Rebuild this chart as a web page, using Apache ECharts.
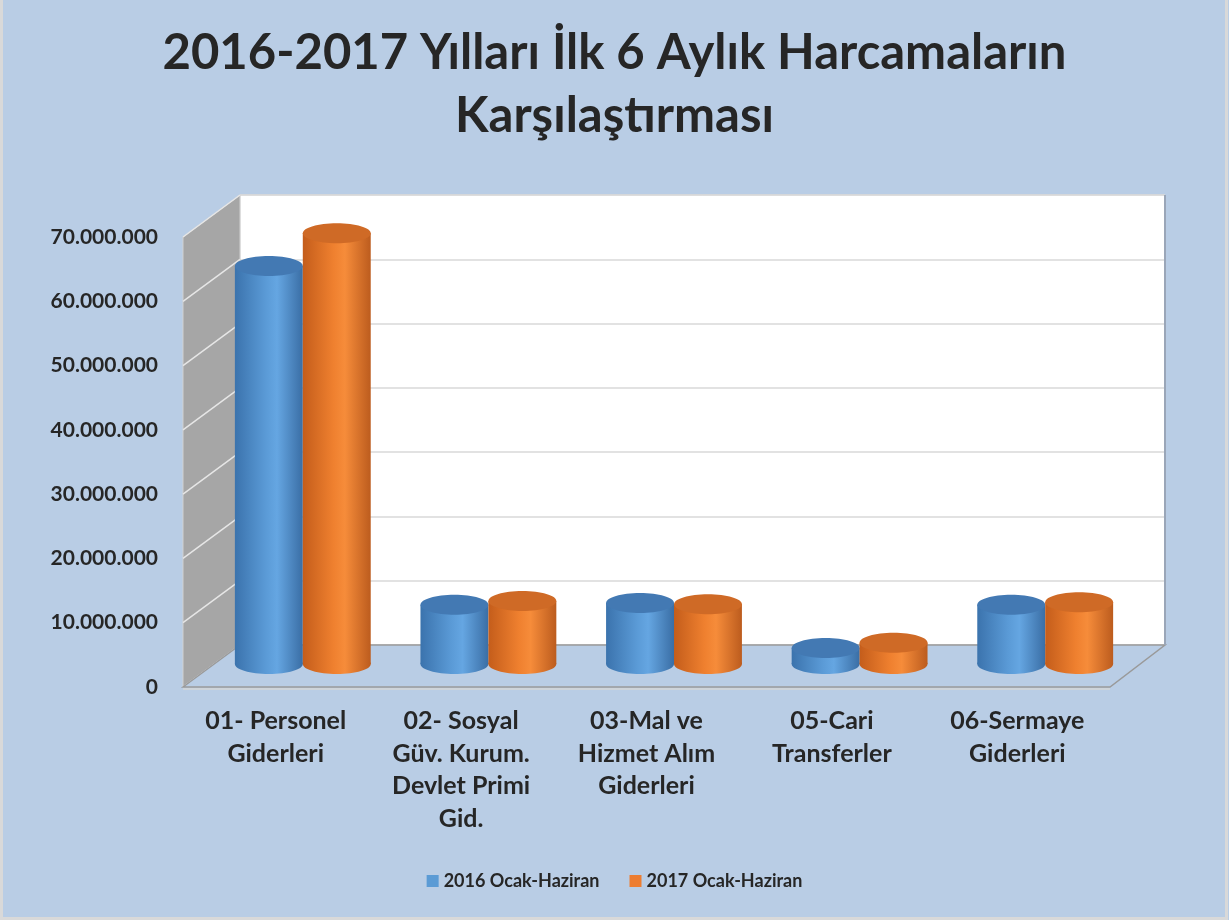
<!DOCTYPE html>
<html>
<head>
<meta charset="utf-8">
<script src="https://cdn.jsdelivr.net/npm/echarts@6/dist/echarts.min.js"></script>
<style>
  html, body { margin: 0; background: #b9cde5; }
  #chart { width: 1229px; height: 920px; }
</style>
</head>
<body>
<div id="chart"></div>
<script>
// data
const categories = [
  '01- Personel\nGiderleri',
  '02- Sosyal\nGüv. Kurum.\nDevlet Primi\nGid.',
  '03-Mal ve\nHizmet Alım\nGiderleri',
  '05-Cari\nTransferler',
  '06-Sermaye\nGiderleri'
];
const seriesNames = ['2016 Ocak-Haziran', '2017 Ocak-Haziran'];
const values2016 = [61900000, 9200000, 9500000, 2500000, 9200000];
const values2017 = [67000000, 9800000, 9300000, 3300000, 9600000];
const yTicks = [0, 10000000, 20000000, 30000000, 40000000, 50000000, 60000000, 70000000];

// pseudo 3d layout: front plane (labels), middle plane (cylinders), back wall
const front = { left: 183, top: 237, width: 927, height: 450 };
const mid = { left: 210, top: 214, width: 928, height: 450 };
const back = { left: 240, top: 195, width: 925, height: 450 };
const yMin = yTicks[0], yMax = yTicks[yTicks.length - 1], yStep = yTicks[1] - yTicks[0];

const font = 'Lato, "Open Sans", sans-serif';
const textColor = '#262626';

function fmt(v) {
  return String(v).replace(/\B(?=(\d{3})+(?!\d))/g, '.');
}

const chart = echarts.init(document.getElementById('chart'));

function cylinder(side, stops, topColor) {
  return function (params, api) {
    const band = api.size([1, 0])[0];
    const w = band * 0.366;
    const pTop = api.coord([api.value(0), api.value(1)]);
    const pBase = api.coord([api.value(0), 0]);
    const cx = pTop[0] + side * w / 2;
    const rx = w / 2, ry = 10;
    const grad = new echarts.graphic.LinearGradient(0, 0, 1, 0, stops);
    return {
      type: 'group',
      children: [
        { type: 'ellipse', shape: { cx: cx, cy: pBase[1], rx: rx, ry: ry }, style: { fill: grad } },
        { type: 'rect', shape: { x: cx - rx, y: pTop[1], width: w, height: pBase[1] - pTop[1] }, style: { fill: grad } },
        { type: 'ellipse', shape: { cx: cx, cy: pTop[1], rx: rx, ry: ry }, style: { fill: topColor } }
      ]
    };
  };
}

const blueStops = [
  { offset: 0, color: '#3b73ad' },
  { offset: 0.45, color: '#5a9ad6' },
  { offset: 0.62, color: '#65a6e2' },
  { offset: 1, color: '#3a6ea5' }
];
const orangeStops = [
  { offset: 0, color: '#c45d1b' },
  { offset: 0.45, color: '#ef802f' },
  { offset: 0.62, color: '#f68c3a' },
  { offset: 1, color: '#bc5c1e' }
];

// side wall, floor and frame as decoration
const frontBottom = front.top + front.height;
const backBottom = back.top + back.height;
const deco = [];
deco.push({
  type: 'polygon', z: 1,
  shape: { points: [[front.left, front.top], [back.left, back.top], [back.left, backBottom], [front.left, frontBottom]] },
  style: { fill: '#a6a6a6', stroke: '#d0d0d0', lineWidth: 1 }
});
yTicks.forEach(function (t) {
  const r = (t - yMin) / (yMax - yMin);
  deco.push({
    type: 'line', z: 1,
    shape: { x1: front.left, y1: frontBottom - r * front.height, x2: back.left, y2: backBottom - r * back.height },
    style: { stroke: '#e6e6e6', lineWidth: 1.5 }
  });
});
deco.push({
  type: 'polygon', z: 1,
  shape: { points: [[front.left, frontBottom], [back.left, backBottom], [back.left + back.width, backBottom], [front.left + front.width, frontBottom]] },
  style: { fill: '#b9cde5', stroke: '#9a9a9a', lineWidth: 1.5 }
});
deco.push({
  type: 'line', z: 1,
  shape: { x1: front.left, y1: frontBottom + 2, x2: front.left + front.width, y2: frontBottom + 2 },
  style: { stroke: '#d6d6d6', lineWidth: 1.5 }
});
deco.push({
  type: 'line', z: 1,
  shape: { x1: back.left + back.width, y1: back.top, x2: back.left + back.width, y2: backBottom },
  style: { stroke: '#9aa6b8', lineWidth: 2 }
});
deco.push({
  type: 'rect', z: 10,
  shape: { x: 1.5, y: -5, width: 1225, height: 923.5 },
  style: { fill: null, stroke: '#d9d9d9', lineWidth: 3 }
});

const option = {
  backgroundColor: '#b9cde5',
  title: {
    text: '2016-2017 Yılları İlk 6 Aylık Harcamaların\nKarşılaştırması',
    left: 'center',
    top: 17,
    textStyle: { fontFamily: font, fontWeight: 'bold', fontSize: 49, lineHeight: 63, color: textColor }
  },
  legend: {
    data: seriesNames,
    bottom: 25,
    left: 'center',
    icon: 'rect',
    itemWidth: 12,
    itemHeight: 12,
    itemGap: 30,
    textStyle: { fontFamily: font, fontWeight: 'bold', fontSize: 18, color: textColor }
  },
  graphic: deco,
  grid: [
    { left: back.left, top: back.top, width: back.width, height: back.height, show: true, backgroundColor: '#ffffff', borderColor: '#d9d9d9', borderWidth: 1 },
    { left: front.left, top: front.top, width: front.width, height: front.height },
    { left: mid.left, top: mid.top, width: mid.width, height: mid.height }
  ],
  xAxis: [
    { gridIndex: 0, type: 'category', data: categories, show: false },
    {
      gridIndex: 1, type: 'category', data: categories,
      axisLine: { show: false }, axisTick: { show: false },
      axisLabel: { interval: 0, margin: 18, fontFamily: font, fontWeight: 'bold', fontSize: 25, lineHeight: 32.5, color: textColor }
    },
    { gridIndex: 2, type: 'category', data: categories, show: false }
  ],
  yAxis: [
    { gridIndex: 0, type: 'value', min: yMin, max: yMax, interval: yStep, axisLabel: { show: false }, axisLine: { show: false }, axisTick: { show: false }, splitLine: { lineStyle: { color: '#d9d9d9', width: 1.5 } } },
    {
      gridIndex: 1, type: 'value', min: yMin, max: yMax, interval: yStep,
      axisLine: { show: false }, axisTick: { show: false }, splitLine: { show: false },
      axisLabel: { margin: 25, formatter: fmt, fontFamily: font, fontWeight: 'bold', fontSize: 21, color: textColor }
    },
    { gridIndex: 2, type: 'value', min: yMin, max: yMax, interval: yStep, show: false, splitLine: { show: false } }
  ],
  series: [
    {
      name: seriesNames[0], type: 'custom', xAxisIndex: 2, yAxisIndex: 2, z: 3,
      itemStyle: { color: '#5b9bd5' },
      renderItem: cylinder(-1, blueStops, '#4379b3'),
      data: values2016.map(function (v, i) { return [i, v]; })
    },
    {
      name: seriesNames[1], type: 'custom', xAxisIndex: 2, yAxisIndex: 2, z: 4,
      itemStyle: { color: '#ed7d31' },
      renderItem: cylinder(1, orangeStops, '#cf6a26'),
      data: values2017.map(function (v, i) { return [i, v]; })
    }
  ]
};

chart.setOption(option);
</script>
</body>
</html>
